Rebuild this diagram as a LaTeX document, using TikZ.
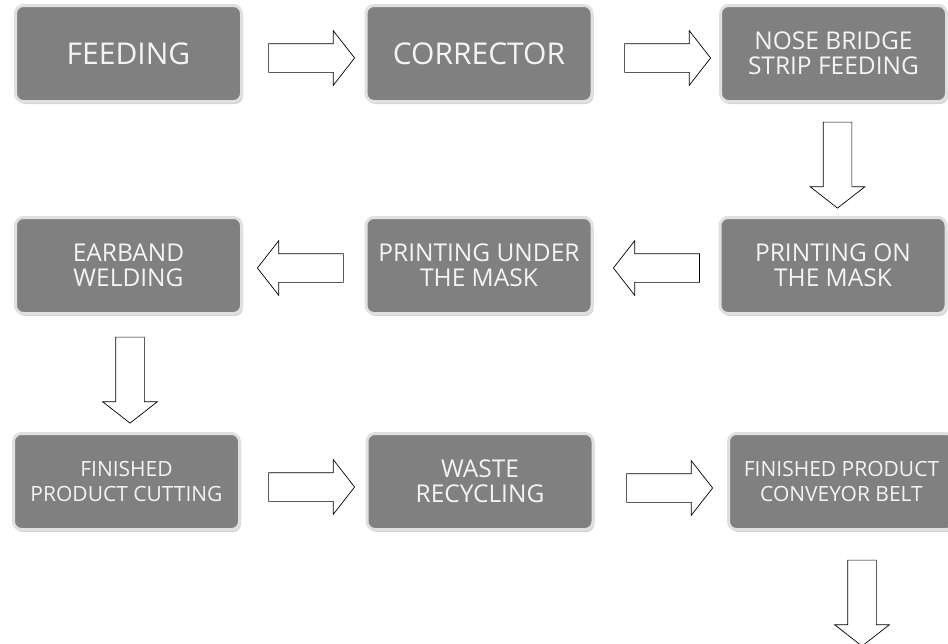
\documentclass[tikz,border=0pt]{standalone}
\usepackage{fontspec}
\setmainfont{Open Sans}
\usetikzlibrary{shapes.arrows,shadows}

\definecolor{boxgray}{RGB}{128,128,128}
\definecolor{boxtext}{RGB}{244,244,244}

\tikzset{
  procbox/.style={rectangle, rounded corners=8pt, fill=boxgray, draw=white!88!black,
    line width=3pt, text=boxtext, align=center, minimum width=226pt, minimum height=96pt,
    inner sep=2pt, drop shadow={opacity=0.35, shadow xshift=1.5pt, shadow yshift=-2.5pt}},
  bigtext/.style={font=\fontsize{30}{32}\selectfont},
  midtext/.style={font=\fontsize{24.5}{25}\selectfont},
  smalltext/.style={font=\fontsize{21}{25}\selectfont},
  blockarrow/.style={single arrow, draw=black, fill=white, line width=0.7pt,
    minimum height=86pt, inner xsep=0pt, inner ysep=14pt,
    single arrow head extend=13pt, single arrow tip angle=104,
    single arrow head indent=0pt}
}

\begin{document}
\begin{tikzpicture}[x=1pt,y=-1pt]
            \useasboundingbox (0,0) rectangle (948,643);
            % first row
            \node[procbox,bigtext] (feed) at (128.5,53.5) {FEEDING};
            \node[procbox,bigtext] (corr) at (479,53.5) {CORRECTOR};
            \node[procbox,midtext] (nose) at (833.5,53.5) {NOSE BRIDGE\\STRIP FEEDING};
            \node[blockarrow] (a1) at (306,58) {};
            \node[blockarrow] (a2) at (662,58) {};
            \node[blockarrow,rotate=-90] (a3) at (837.5,159.5) {};
            % second row
            \node[procbox,midtext] (pon) at (833,265.5) {PRINTING ON\\THE MASK};
            \node[procbox,midtext] (punder) at (479,265.5) {PRINTING UNDER\\THE MASK};
            \node[procbox,midtext] (ear) at (128.5,265.5) {EARBAND\\WELDING};
            \node[blockarrow,rotate=180] (a4) at (662,268) {};
            \node[blockarrow,rotate=180] (a5) at (306,268) {};
            \node[blockarrow,rotate=-90] (a6) at (130,374.5) {};
            % third row
            \node[procbox,smalltext] (cut) at (126.5,481.5) {FINISHED\\PRODUCT CUTTING};
            \node[procbox,midtext] (waste) at (480,481.5) {WASTE\\RECYCLING};
            \node[procbox,smalltext] (belt) at (841.5,481.5) {FINISHED PRODUCT\\CONVEYOR BELT};
            \node[blockarrow] (a7) at (306,487) {};
            \node[blockarrow] (a8) at (664,488) {};
            \node[blockarrow,rotate=-90] (a9) at (862,597.5) {};
        \end{tikzpicture}
\end{document}
